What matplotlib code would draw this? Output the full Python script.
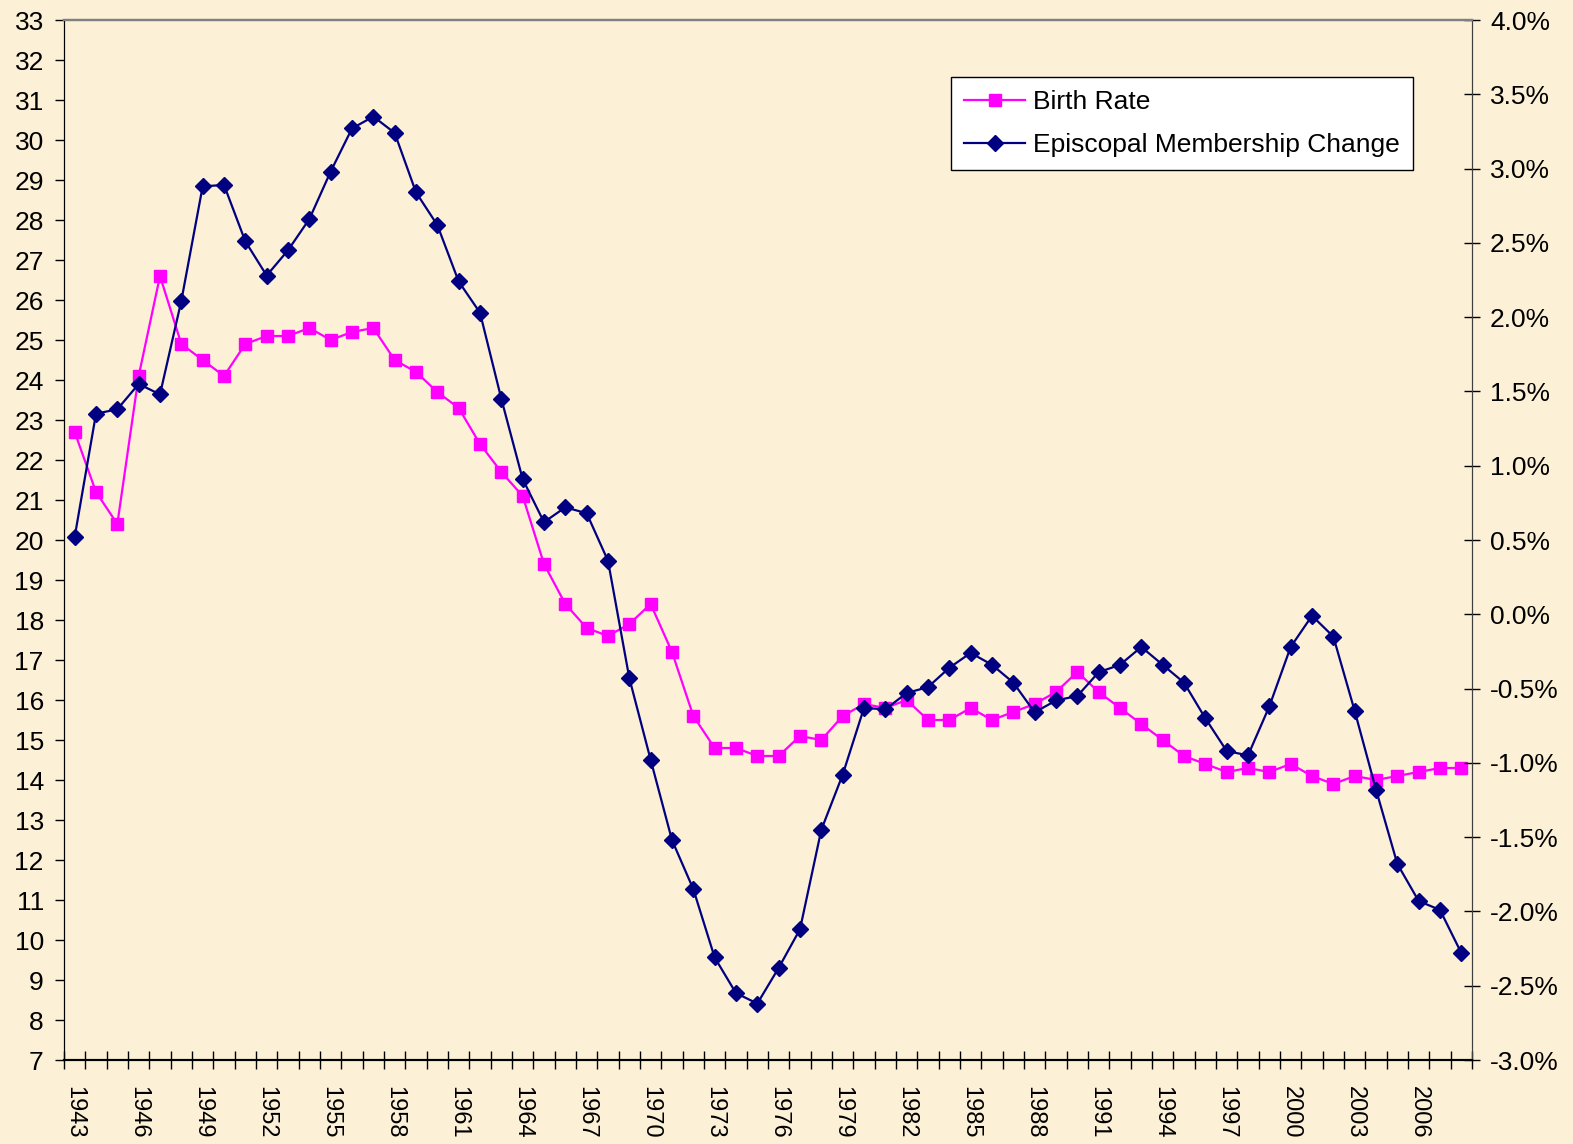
import matplotlib
matplotlib.use("Agg")
import matplotlib.pyplot as plt
from matplotlib.lines import Line2D
import numpy as np

plt.rcParams["font.family"] = ["Liberation Sans", "DejaVu Sans"]
plt.rcParams["axes.unicode_minus"] = False

years = list(range(1943, 2009))

birth_rate = [
    22.7, 21.2, 20.4, 24.1, 26.6, 24.9, 24.5, 24.1, 24.9, 25.1,
    25.1, 25.3, 25.0, 25.2, 25.3, 24.5, 24.2, 23.7, 23.3, 22.4,
    21.7, 21.1, 19.4, 18.4, 17.8, 17.6, 17.9, 18.4, 17.2, 15.6,
    14.8, 14.8, 14.6, 14.6, 15.1, 15.0, 15.6, 15.9, 15.8, 16.0,
    15.5, 15.5, 15.8, 15.5, 15.7, 15.9, 16.2, 16.7, 16.2, 15.8,
    15.4, 15.0, 14.6, 14.4, 14.2, 14.3, 14.2, 14.4, 14.1, 13.9,
    14.1, 14.0, 14.1, 14.2, 14.3, 14.3,
]

# percent
membership_change = [
    0.52, 1.35, 1.38, 1.55, 1.48, 2.11, 2.88, 2.89, 2.51, 2.28,
    2.45, 2.66, 2.98, 3.27, 3.35, 3.24, 2.84, 2.62, 2.24, 2.03,
    1.45, 0.91, 0.62, 0.72, 0.68, 0.36, -0.43, -0.98, -1.52, -1.85,
    -2.31, -2.55, -2.62, -2.38, -2.12, -1.45, -1.08, -0.63, -0.64, -0.53,
    -0.49, -0.36, -0.26, -0.34, -0.46, -0.66, -0.58, -0.55, -0.39, -0.34,
    -0.22, -0.34, -0.46, -0.70, -0.92, -0.95, -0.62, -0.22, -0.01, -0.15,
    -0.65, -1.18, -1.68, -1.93, -1.99, -2.28,
]

left_ticks = list(range(7, 34))
right_ticks = [-3.0, -2.5, -2.0, -1.5, -1.0, -0.5, 0.0, 0.5, 1.0, 1.5, 2.0, 2.5, 3.0, 3.5, 4.0]

BG = "#fcf0d6"
PINK = "#ff00ff"
NAVY = "#000080"
FS = 19

W, H = 1573, 1144
fig = plt.figure(figsize=(W / 100, H / 100), dpi=100, facecolor=BG)
ax = fig.add_axes([64 / W, 1 - 1060 / H, 1408 / W, 1040 / H])
ax.set_facecolor(BG)
x = np.arange(len(years))

ax.plot(x, birth_rate, color=PINK, lw=1.6, marker="s", ms=9, mec=PINK, mfc=PINK, zorder=3)
ax.set_xlim(-0.5, len(years) - 0.5)
ax.set_ylim(7, 33)
ax.set_yticks(left_ticks)
ax.tick_params(axis="y", direction="out", length=6.5, width=1, labelsize=FS, pad=8)

ax.set_xticks(x[::3])
ax.set_xticklabels([str(y) for y in years[::3]], rotation=-90, fontsize=17)
ax.set_xticks(np.arange(-0.5, len(years)), minor=True)
ax.tick_params(axis="x", which="major", length=0, pad=19)
ax.tick_params(axis="x", which="minor", direction="inout", length=13, width=1)

ax2 = ax.twinx()
ax2.plot(x, membership_change, color=NAVY, lw=1.6, marker="D", ms=8, mec=NAVY, mfc=NAVY, zorder=3)
ax2.set_ylim(-3.0, 4.0)
ax2.set_yticks(right_ticks)
ax2.set_yticklabels([f"{v:.1f}%" for v in right_ticks])
ax2.tick_params(axis="y", direction="inout", length=12, width=1, labelsize=FS, pad=7)

for a in (ax, ax2):
    a.spines["top"].set_color("#808080")
    a.spines["top"].set_linewidth(1.6)
    a.spines["left"].set_color("black")
    a.spines["bottom"].set_color("black")
    a.spines["right"].set_color("#404040")
    a.spines["bottom"].set_linewidth(1.5)

handles = [
    Line2D([0], [0], color=PINK, lw=1.6, marker="s", ms=9, label="Birth Rate"),
    Line2D([0], [0], color=NAVY, lw=1.6, marker="D", ms=8, label="Episcopal Membership Change"),
]
leg = ax2.legend(handles=handles, loc="upper right", bbox_to_anchor=(0.958, 0.945),
                 borderaxespad=0, fontsize=FS, frameon=True, fancybox=False,
                 framealpha=1, edgecolor="black", handlelength=2.3, labelspacing=0.7,
                 borderpad=0.5, handletextpad=0.3, numpoints=1)
leg.get_frame().set_linewidth(1.0)

fig.savefig("out.png", dpi=100, facecolor=BG)
